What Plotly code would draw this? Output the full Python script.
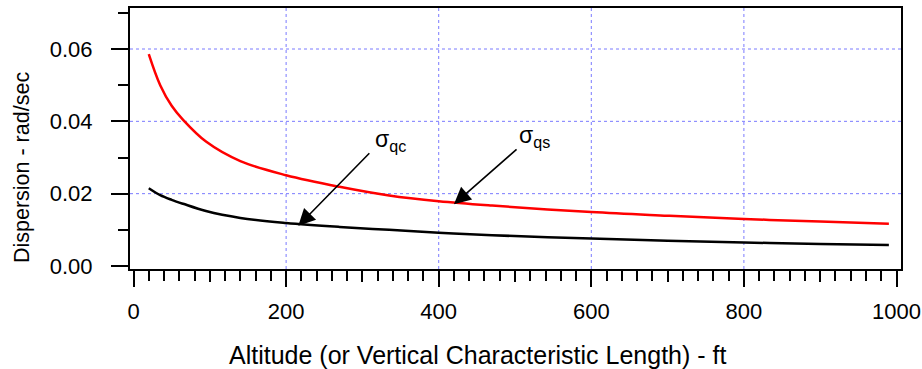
import plotly.graph_objects as go

# Data
altitude_ft = [20, 35, 50, 65, 95, 140, 200, 270, 335, 400, 470, 600, 700, 800, 900, 990]
sigma_qs = [0.0586, 0.0500, 0.0443, 0.0404, 0.0344, 0.0290, 0.0251, 0.0219, 0.0195,
            0.0179, 0.0167, 0.0149, 0.0139, 0.0130, 0.0123, 0.0117]
sigma_qc = [0.0215, 0.0196, 0.0183, 0.0172, 0.0152, 0.0133, 0.0119, 0.0108, 0.0100,
            0.0092, 0.0085, 0.0076, 0.0070, 0.0065, 0.0061, 0.0058]

x_major_ticks = [0, 200, 400, 600, 800, 1000]
x_grid = [200, 400, 600, 800]
y_major_ticks = [0.00, 0.02, 0.04, 0.06]
y_grid = [0.02, 0.04, 0.06]

x_title = "Altitude (or Vertical Characteristic Length) - ft"
y_title = "Dispersion - rad/sec"

# annotation anchors (data coordinates)
qc_label = ("σ<sub>qc</sub>", 337, 0.0348)
qs_label = ("σ<sub>qs</sub>", 526, 0.0357)
qc_arrow = (216, 0.0111, 311, 0.0316)
qs_arrow = (420, 0.0171, 504, 0.0326)

FONT = "Liberation Sans, Arial, sans-serif"
XR = [-4.6, 1005.9]
YR = [-0.00083, 0.07134]
GRID = "#7a7aff"

fig = go.Figure()
fig.add_trace(go.Scatter(x=altitude_ft, y=sigma_qs, mode="lines", line=dict(color="#ff0000", width=2.5, shape="spline"),
                         showlegend=False, hoverinfo="skip"))
fig.add_trace(go.Scatter(x=altitude_ft, y=sigma_qc, mode="lines", line=dict(color="#000000", width=2.5, shape="spline"),
                         showlegend=False, hoverinfo="skip"))
# dummy trace for the medium-tick overlay axis
fig.add_trace(go.Scatter(x=[None], y=[None], xaxis="x2", yaxis="y", showlegend=False, hoverinfo="skip"))

fig.update_layout(
    width=922, height=369,
    margin=dict(l=130, r=21, t=8, b=100),
    paper_bgcolor="white", plot_bgcolor="white",
    font=dict(family=FONT, size=22, color="black"),
    xaxis=dict(range=XR, tickvals=x_major_ticks, ticks="outside", ticklen=16, tickwidth=2, tickcolor="black",
               showgrid=False, zeroline=False, showline=True, linecolor="black", linewidth=2, mirror=True,
               ticklabelstandoff=6, tickfont=dict(size=22), automargin=False,
               minor=dict(dtick=20, tick0=0, ticks="outside", ticklen=10, tickwidth=2, tickcolor="black", showgrid=False)),
    xaxis2=dict(range=XR, overlaying="x", anchor="y", side="bottom", dtick=100, tick0=0, ticks="outside", ticklen=12,
                tickwidth=2, tickcolor="black", showticklabels=False, showgrid=False, zeroline=False, showline=False,
                automargin=False),
    yaxis=dict(range=YR, tickvals=y_major_ticks, tickformat=".2f", ticks="outside", ticklen=17, tickwidth=2,
               tickcolor="black", showgrid=False, zeroline=False, showline=True, linecolor="black", linewidth=2,
               mirror=True, ticklabelstandoff=14, tickfont=dict(size=22), automargin=False,
               minor=dict(dtick=0.01, tick0=0, ticks="outside", ticklen=10, tickwidth=2, tickcolor="black", showgrid=False)),
)

shapes = []
for gx in x_grid:
    shapes.append(dict(type="line", xref="x", yref="paper", x0=gx, x1=gx, y0=0, y1=1, layer="below",
                       line=dict(color=GRID, width=1, dash="dot")))
for gy in y_grid:
    shapes.append(dict(type="line", xref="paper", yref="y", x0=0, x1=1, y0=gy, y1=gy, layer="below",
                       line=dict(color=GRID, width=1, dash="dot")))
fig.update_layout(shapes=shapes)

anns = []
anns.append(dict(text=x_title, xref="paper", yref="paper", x=0.451, y=-0.3295, xanchor="center", yanchor="middle",
                 showarrow=False, font=dict(size=25)))
anns.append(dict(text=y_title, xref="paper", yref="paper", x=-0.140, y=0.387, xanchor="center", yanchor="middle",
                 textangle=-90, showarrow=False, font=dict(size=21.5)))
for txt, lx, ly in (qc_label, qs_label):
    anns.append(dict(text=txt, x=lx, y=ly, xref="x", yref="y", showarrow=False, font=dict(size=23),
                     xanchor="center", yanchor="middle"))
for hx, hy, tx, ty in (qc_arrow, qs_arrow):
    anns.append(dict(text="", x=hx, y=hy, xref="x", yref="y", ax=tx, ay=ty, axref="x", ayref="y",
                     showarrow=True, arrowhead=2, arrowsize=2.1, arrowwidth=1.6, arrowcolor="black", standoff=0))
fig.update_layout(annotations=anns)

fig.write_html("out.html")
